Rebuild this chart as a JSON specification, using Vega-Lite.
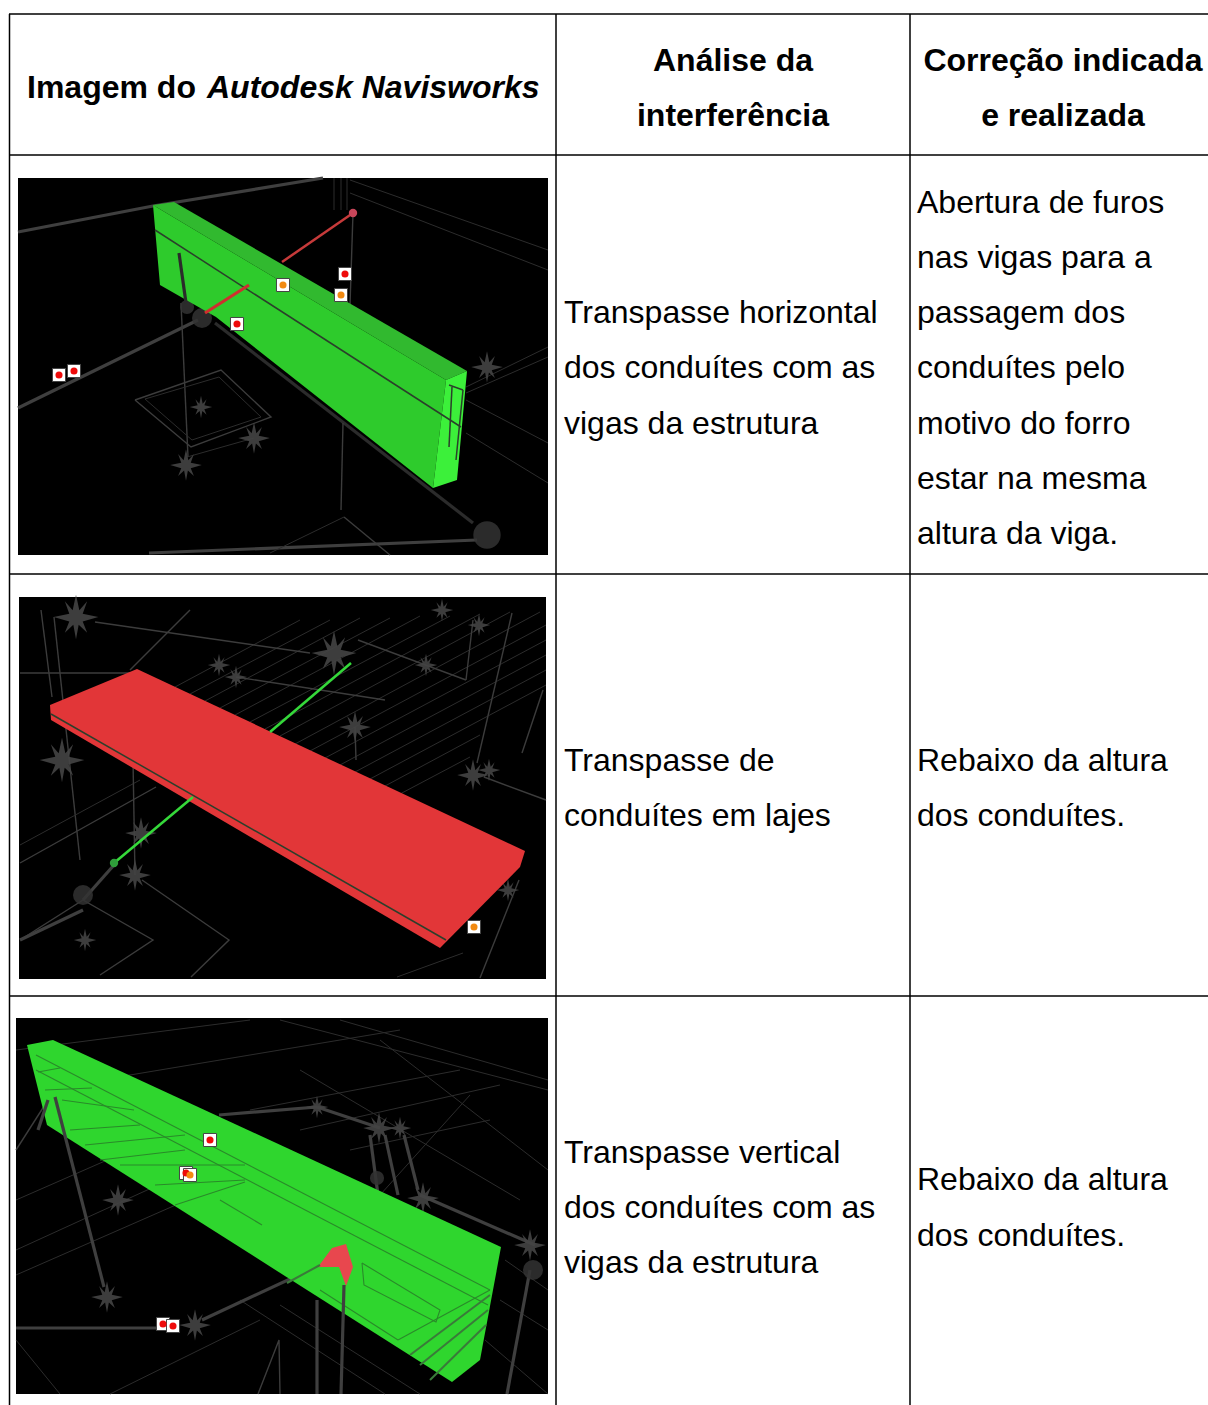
{
"$schema":"https://vega.github.io/schema/vega-lite/v6.json",
"width":1208,"height":1405,
"autosize":{"type":"none"},
"padding":0,
"background":"white",
"config":{"view":{"stroke":null}},
"resolve":{"scale":{"color":"independent","fill":"independent","strokeWidth":"independent","size":"independent"}},
"datasets":{
"panels":[{"x":18,"x2":548,"y":178,"y2":555},{"x":19,"x2":546,"y":597,"y2":979},{"x":16,"x2":548,"y":1018,"y2":1394}],
"grid":[
{"x":9,"x2":1208,"y":14,"y2":14},{"x":9,"x2":1208,"y":155,"y2":155},{"x":9,"x2":1208,"y":574,"y2":574},{"x":9,"x2":1208,"y":996,"y2":996},
{"x":9.5,"x2":9.5,"y":14,"y2":1405},{"x":556,"x2":556,"y":14,"y2":1405},{"x":910,"x2":910,"y":14,"y2":1405}],
"wiresBack":[
{"id":"a1","k":"pipe","x":18,"y":232},{"id":"a1","k":"pipe","x":153,"y":206},{"id":"a1","k":"pipe","x":323,"y":178},
{"id":"a2","k":"pipe","x":18,"y":408},{"id":"a2","k":"pipe","x":198,"y":320},
{"id":"a3","k":"pipe","x":149,"y":553},{"id":"a3","k":"pipe","x":477,"y":540},
{"id":"a4","k":"dark","x":215,"y":323},{"id":"a4","k":"dark","x":473,"y":523},
{"id":"a5","k":"wire","x":181,"y":303},{"id":"a5","k":"wire","x":188,"y":457},
{"id":"a6","k":"wire","x":353,"y":213},{"id":"a6","k":"wire","x":350,"y":305},
{"id":"a7","k":"wire","x":343,"y":423},{"id":"a7","k":"wire","x":341,"y":510},
{"id":"a8","k":"wire","x":344,"y":517},{"id":"a8","k":"wire","x":390,"y":555},
{"id":"a9","k":"wire","x":135,"y":400},{"id":"a9","k":"wire","x":221,"y":370},{"id":"a9","k":"wire","x":271,"y":417},{"id":"a9","k":"wire","x":191,"y":447},{"id":"a9","k":"wire","x":135,"y":400},
{"id":"a10","k":"faint","x":145,"y":399},{"id":"a10","k":"faint","x":219,"y":377},{"id":"a10","k":"faint","x":261,"y":417},{"id":"a10","k":"faint","x":192,"y":440},{"id":"a10","k":"faint","x":145,"y":399},
{"id":"a11","k":"faint","x":350,"y":180},{"id":"a11","k":"faint","x":548,"y":250},
{"id":"a12","k":"faint","x":350,"y":193},{"id":"a12","k":"faint","x":548,"y":270},
{"id":"a13","k":"faint","x":466,"y":393},{"id":"a13","k":"faint","x":548,"y":357},
{"id":"a14","k":"faint","x":466,"y":387},{"id":"a14","k":"faint","x":548,"y":347},
{"id":"a15","k":"faint","x":466,"y":400},{"id":"a15","k":"faint","x":548,"y":443},
{"id":"a16","k":"faint","x":466,"y":433},{"id":"a16","k":"faint","x":548,"y":483},
{"id":"a17","k":"faint","x":334,"y":178},{"id":"a17","k":"faint","x":334,"y":210},
{"id":"a18","k":"faint","x":341,"y":178},{"id":"a18","k":"faint","x":341,"y":210},
{"id":"a19","k":"faint","x":347,"y":178},{"id":"a19","k":"faint","x":347,"y":210},
{"id":"a20","k":"faint","x":187,"y":457},{"id":"a20","k":"faint","x":254,"y":438},
{"id":"a21","k":"faint","x":344,"y":517},{"id":"a21","k":"faint","x":270,"y":553},
{"id":"b1","k":"faint","x":175,"y":687},{"id":"b1","k":"faint","x":300,"y":620},
{"id":"b2","k":"faint","x":190,"y":694},{"id":"b2","k":"faint","x":330,"y":620},
{"id":"b3","k":"faint","x":205,"y":701},{"id":"b3","k":"faint","x":360,"y":618},
{"id":"b4","k":"faint","x":220,"y":708},{"id":"b4","k":"faint","x":390,"y":618},
{"id":"b5","k":"faint","x":235,"y":715},{"id":"b5","k":"faint","x":420,"y":616},
{"id":"b6","k":"faint","x":250,"y":722},{"id":"b6","k":"faint","x":450,"y":616},
{"id":"b7","k":"faint","x":265,"y":729},{"id":"b7","k":"faint","x":480,"y":614},
{"id":"b8","k":"faint","x":280,"y":736},{"id":"b8","k":"faint","x":510,"y":612},
{"id":"b9","k":"faint","x":295,"y":744},{"id":"b9","k":"faint","x":540,"y":612},
{"id":"b10","k":"faint","x":310,"y":751},{"id":"b10","k":"faint","x":546,"y":625},
{"id":"b11","k":"faint","x":325,"y":758},{"id":"b11","k":"faint","x":546,"y":640},
{"id":"b12","k":"faint","x":340,"y":765},{"id":"b12","k":"faint","x":546,"y":655},
{"id":"b13","k":"faint","x":355,"y":772},{"id":"b13","k":"faint","x":546,"y":670},
{"id":"b14","k":"faint","x":370,"y":779},{"id":"b14","k":"faint","x":546,"y":685},
{"id":"b15","k":"faint","x":385,"y":786},{"id":"b15","k":"faint","x":480,"y":735},
{"id":"b16","k":"faint","x":400,"y":794},{"id":"b16","k":"faint","x":470,"y":757},
{"id":"b17","k":"wire","x":95,"y":622},{"id":"b17","k":"wire","x":310,"y":653},
{"id":"b18","k":"wire","x":20,"y":673},{"id":"b18","k":"wire","x":139,"y":673},
{"id":"b19","k":"wire","x":41,"y":610},{"id":"b19","k":"wire","x":52,"y":697},
{"id":"b20","k":"wire","x":54,"y":617},{"id":"b20","k":"wire","x":80,"y":860},
{"id":"b21","k":"wire","x":512,"y":613},{"id":"b21","k":"wire","x":477,"y":763},
{"id":"b22","k":"wire","x":466,"y":680},{"id":"b22","k":"wire","x":358,"y":640},
{"id":"b23","k":"wire","x":473,"y":620},{"id":"b23","k":"wire","x":466,"y":680},
{"id":"b24","k":"wire","x":543,"y":690},{"id":"b24","k":"wire","x":522,"y":753},
{"id":"b25","k":"wire","x":484,"y":777},{"id":"b25","k":"wire","x":546,"y":800},
{"id":"b26","k":"wire","x":20,"y":940},{"id":"b26","k":"wire","x":83,"y":900},{"id":"b26","k":"wire","x":153,"y":940},{"id":"b26","k":"wire","x":100,"y":975},
{"id":"b27","k":"pipe","x":83,"y":900},{"id":"b27","k":"pipe","x":114,"y":865},
{"id":"b37","k":"pipe","x":20,"y":940},{"id":"b37","k":"pipe","x":83,"y":910},
{"id":"b28","k":"wire","x":142,"y":880},{"id":"b28","k":"wire","x":229,"y":940},{"id":"b28","k":"wire","x":191,"y":977},
{"id":"b29","k":"faint","x":397,"y":977},{"id":"b29","k":"faint","x":463,"y":953},
{"id":"b30","k":"wire","x":480,"y":978},{"id":"b30","k":"wire","x":519,"y":880},
{"id":"b31","k":"wire","x":20,"y":863},{"id":"b31","k":"wire","x":156,"y":787},
{"id":"b32","k":"faint","x":20,"y":845},{"id":"b32","k":"faint","x":140,"y":780},
{"id":"b33","k":"wire","x":355,"y":727},{"id":"b33","k":"wire","x":356,"y":760},
{"id":"b34","k":"wire","x":133,"y":760},{"id":"b34","k":"wire","x":135,"y":875},
{"id":"b35","k":"wire","x":130,"y":670},{"id":"b35","k":"wire","x":190,"y":610},
{"id":"b36","k":"wire","x":236,"y":677},{"id":"b36","k":"wire","x":385,"y":700},
{"id":"c1","k":"faint","x":16,"y":1050},{"id":"c1","k":"faint","x":250,"y":1020},
{"id":"c2","k":"faint","x":280,"y":1020},{"id":"c2","k":"faint","x":548,"y":1090},
{"id":"c3","k":"faint","x":340,"y":1020},{"id":"c3","k":"faint","x":548,"y":1080},
{"id":"c4","k":"faint","x":100,"y":1080},{"id":"c4","k":"faint","x":400,"y":1030},
{"id":"c5","k":"faint","x":250,"y":1110},{"id":"c5","k":"faint","x":460,"y":1070},
{"id":"c6","k":"faint","x":300,"y":1130},{"id":"c6","k":"faint","x":500,"y":1085},
{"id":"c7","k":"faint","x":350,"y":1150},{"id":"c7","k":"faint","x":490,"y":1120},
{"id":"c8","k":"faint","x":380,"y":1040},{"id":"c8","k":"faint","x":548,"y":1170},
{"id":"c9","k":"faint","x":300,"y":1070},{"id":"c9","k":"faint","x":520,"y":1200},
{"id":"c10","k":"faint","x":470,"y":1095},{"id":"c10","k":"faint","x":380,"y":1195},
{"id":"c11","k":"faint","x":16,"y":1200},{"id":"c11","k":"faint","x":130,"y":1150},
{"id":"c12","k":"faint","x":16,"y":1250},{"id":"c12","k":"faint","x":180,"y":1175},
{"id":"c13","k":"faint","x":16,"y":1275},{"id":"c13","k":"faint","x":210,"y":1190},
{"id":"c14","k":"faint","x":16,"y":1340},{"id":"c14","k":"faint","x":60,"y":1394},
{"id":"c15","k":"faint","x":110,"y":1394},{"id":"c15","k":"faint","x":260,"y":1320},
{"id":"c16","k":"faint","x":280,"y":1305},{"id":"c16","k":"faint","x":420,"y":1394},
{"id":"c17","k":"faint","x":240,"y":1300},{"id":"c17","k":"faint","x":385,"y":1394},
{"id":"c18","k":"faint","x":505,"y":1260},{"id":"c18","k":"faint","x":548,"y":1290},
{"id":"c19","k":"faint","x":500,"y":1300},{"id":"c19","k":"faint","x":548,"y":1330},
{"id":"c20","k":"faint","x":485,"y":1340},{"id":"c20","k":"faint","x":548,"y":1394},
{"id":"c21","k":"pipe","x":16,"y":1328},{"id":"c21","k":"pipe","x":160,"y":1328},
{"id":"c22","k":"pipe","x":202,"y":1320},{"id":"c22","k":"pipe","x":320,"y":1265},
{"id":"c23","k":"pipe","x":317,"y":1300},{"id":"c23","k":"pipe","x":317,"y":1394},
{"id":"c24","k":"pipe","x":219,"y":1115},{"id":"c24","k":"pipe","x":317,"y":1107},
{"id":"c25","k":"pipe","x":317,"y":1107},{"id":"c25","k":"pipe","x":380,"y":1128},
{"id":"c26","k":"pipe","x":370,"y":1135},{"id":"c26","k":"pipe","x":378,"y":1195},
{"id":"c27","k":"pipe","x":385,"y":1135},{"id":"c27","k":"pipe","x":398,"y":1195},
{"id":"c28","k":"pipe","x":404,"y":1135},{"id":"c28","k":"pipe","x":418,"y":1190},
{"id":"c29","k":"pipe","x":420,"y":1195},{"id":"c29","k":"pipe","x":535,"y":1245},
{"id":"c30","k":"pipe","x":530,"y":1270},{"id":"c30","k":"pipe","x":507,"y":1394},
{"id":"c31","k":"wire","x":280,"y":1394},{"id":"c31","k":"wire","x":279,"y":1340},{"id":"c31","k":"wire","x":258,"y":1394},
{"id":"c32","k":"wire","x":16,"y":1150},{"id":"c32","k":"wire","x":48,"y":1100}
],
"wiresFront":[
{"id":"d1","k":"beamLine","x":155,"y":230},{"id":"d1","k":"beamLine","x":461,"y":427},
{"id":"d2","k":"dark","x":179,"y":253},{"id":"d2","k":"dark","x":186,"y":303},
{"id":"d3","k":"red","x":282,"y":262},{"id":"d3","k":"red","x":353,"y":213},
{"id":"d4","k":"redThick","x":205,"y":313},{"id":"d4","k":"redThick","x":249,"y":285},
{"id":"d5","k":"beamLine","x":449,"y":385},{"id":"d5","k":"beamLine","x":463,"y":390},
{"id":"d6","k":"beamLine","x":452,"y":387},{"id":"d6","k":"beamLine","x":449,"y":447},
{"id":"d7","k":"beamLine","x":463,"y":390},{"id":"d7","k":"beamLine","x":456,"y":460},
{"id":"e1","k":"beamLine","x":51,"y":714},{"id":"e1","k":"beamLine","x":446,"y":940},
{"id":"e2","k":"green","x":270,"y":732},{"id":"e2","k":"green","x":351,"y":663},
{"id":"e3","k":"green","x":193,"y":797},{"id":"e3","k":"green","x":114,"y":863},
{"id":"f1","k":"beamFaint","x":36,"y":1055},{"id":"f1","k":"beamFaint","x":490,"y":1290},
{"id":"f2","k":"beamFaint","x":36,"y":1070},{"id":"f2","k":"beamFaint","x":488,"y":1305},
{"id":"f3","k":"beamFaint","x":38,"y":1072},{"id":"f3","k":"beamFaint","x":60,"y":1068},
{"id":"f4","k":"beamFaint","x":45,"y":1090},{"id":"f4","k":"beamFaint","x":92,"y":1088},
{"id":"f5","k":"beamFaint","x":62,"y":1100},{"id":"f5","k":"beamFaint","x":134,"y":1110},
{"id":"f6","k":"beamFaint","x":70,"y":1130},{"id":"f6","k":"beamFaint","x":140,"y":1125},
{"id":"f7","k":"beamFaint","x":85,"y":1145},{"id":"f7","k":"beamFaint","x":185,"y":1135},
{"id":"f8","k":"beamFaint","x":100,"y":1160},{"id":"f8","k":"beamFaint","x":185,"y":1150},
{"id":"f9","k":"beamFaint","x":120,"y":1165},{"id":"f9","k":"beamFaint","x":245,"y":1165},
{"id":"f10","k":"beamFaint","x":155,"y":1185},{"id":"f10","k":"beamFaint","x":245,"y":1180},
{"id":"f11","k":"beamFaint","x":175,"y":1205},{"id":"f11","k":"beamFaint","x":245,"y":1182},
{"id":"f12","k":"beamFaint","x":220,"y":1200},{"id":"f12","k":"beamFaint","x":262,"y":1225},
{"id":"f13","k":"beamFaint","x":362,"y":1263},{"id":"f13","k":"beamFaint","x":440,"y":1310},{"id":"f13","k":"beamFaint","x":436,"y":1322},{"id":"f13","k":"beamFaint","x":364,"y":1285},{"id":"f13","k":"beamFaint","x":362,"y":1263},
{"id":"f14","k":"beamFaint","x":320,"y":1290},{"id":"f14","k":"beamFaint","x":398,"y":1340},
{"id":"f15","k":"beamFaint","x":398,"y":1340},{"id":"f15","k":"beamFaint","x":490,"y":1290},
{"id":"f16","k":"beamPipe","x":410,"y":1355},{"id":"f16","k":"beamPipe","x":490,"y":1295},
{"id":"f17","k":"beamPipe","x":420,"y":1365},{"id":"f17","k":"beamPipe","x":488,"y":1310},
{"id":"f18","k":"beamPipe","x":430,"y":1380},{"id":"f18","k":"beamPipe","x":486,"y":1325},
{"id":"f19","k":"pipe","x":55,"y":1097},{"id":"f19","k":"pipe","x":104,"y":1287},
{"id":"f20","k":"pipe","x":48,"y":1100},{"id":"f20","k":"pipe","x":38,"y":1130},
{"id":"f21","k":"beamPipe","x":287,"y":1283},{"id":"f21","k":"beamPipe","x":320,"y":1265},
{"id":"f22","k":"pipe","x":344,"y":1285},{"id":"f22","k":"pipe","x":341,"y":1394}
],
"faces":[
{"id":"p1top","k":"top","x":153,"y":205},{"id":"p1top","k":"top","x":174,"y":202},{"id":"p1top","k":"top","x":467,"y":371},{"id":"p1top","k":"top","x":446,"y":380},
{"id":"p1front","k":"front","x":153,"y":205},{"id":"p1front","k":"front","x":446,"y":380},{"id":"p1front","k":"front","x":433,"y":488},{"id":"p1front","k":"front","x":216,"y":317},{"id":"p1front","k":"front","x":160,"y":285},
{"id":"p1end","k":"end","x":446,"y":380},{"id":"p1end","k":"end","x":467,"y":371},{"id":"p1end","k":"end","x":457,"y":480},{"id":"p1end","k":"end","x":433,"y":488},
{"id":"p2","k":"slab","x":50,"y":705},{"id":"p2","k":"slab","x":137,"y":669},{"id":"p2","k":"slab","x":525,"y":851},{"id":"p2","k":"slab","x":520,"y":867},{"id":"p2","k":"slab","x":440,"y":948},{"id":"p2","k":"slab","x":51,"y":720},
{"id":"p3","k":"front3","x":27,"y":1045},{"id":"p3","k":"front3","x":53,"y":1040},{"id":"p3","k":"front3","x":501,"y":1247},{"id":"p3","k":"front3","x":480,"y":1360},{"id":"p3","k":"front3","x":452,"y":1382},{"id":"p3","k":"front3","x":47,"y":1125},
{"id":"p3red","k":"blob","x":318,"y":1267},{"id":"p3red","k":"blob","x":332,"y":1248},{"id":"p3red","k":"blob","x":346,"y":1244},{"id":"p3red","k":"blob","x":353,"y":1267},{"id":"p3red","k":"blob","x":346,"y":1286},{"id":"p3red","k":"blob","x":339,"y":1267}
],
"stars":[
{"x":186,"y":465,"s":"m"},{"x":254,"y":438,"s":"m"},{"x":487,"y":367,"s":"m"},{"x":201,"y":407,"s":"s"},
{"x":76,"y":617,"s":"l"},{"x":334,"y":653,"s":"l"},{"x":219,"y":665,"s":"s"},{"x":236,"y":677,"s":"s"},{"x":355,"y":727,"s":"m"},{"x":426,"y":665,"s":"s"},{"x":442,"y":610,"s":"s"},{"x":479,"y":625,"s":"s"},{"x":473,"y":775,"s":"m"},{"x":489,"y":770,"s":"s"},{"x":62,"y":760,"s":"l"},{"x":141,"y":833,"s":"m"},{"x":135,"y":875,"s":"m"},{"x":85,"y":940,"s":"s"},{"x":508,"y":890,"s":"s"},
{"x":107,"y":1297,"s":"m"},{"x":118,"y":1200,"s":"m"},{"x":317,"y":1107,"s":"s"},{"x":379,"y":1128,"s":"m"},{"x":400,"y":1128,"s":"s"},{"x":423,"y":1198,"s":"m"},{"x":195,"y":1325,"s":"m"},{"x":530,"y":1245,"s":"m"}
],
"blobs":[
{"x":487,"y":535,"s":"l"},{"x":187,"y":307,"s":"s"},{"x":202,"y":318,"s":"m"},{"x":83,"y":895,"s":"m"},{"x":55,"y":1098,"s":"s"},{"x":377,"y":1178,"s":"s"},{"x":533,"y":1270,"s":"m"}
],
"dots":[{"x":353,"y":213,"c":"r"},{"x":114,"y":863,"c":"g"}],
"markers":[
{"x":59,"y":375,"c":"red"},{"x":74,"y":371,"c":"red"},{"x":237,"y":324,"c":"red"},{"x":283,"y":285,"c":"orange"},{"x":345,"y":274,"c":"red"},{"x":341,"y":295,"c":"orange"},
{"x":474,"y":927,"c":"orange"},
{"x":210,"y":1140,"c":"red"},{"x":186,"y":1173,"c":"red"},{"x":190,"y":1175,"c":"orange"},{"x":163,"y":1324,"c":"red"},{"x":173,"y":1326,"c":"red"}
],
"textLeft":[
{"t":"Abertura de furos","x":917,"y":213},{"t":"nas vigas para a","x":917,"y":268},{"t":"passagem dos","x":917,"y":323},{"t":"conduítes pelo","x":917,"y":378},{"t":"motivo do forro","x":917,"y":434},{"t":"estar na mesma","x":917,"y":489},{"t":"altura da viga.","x":917,"y":544},
{"t":"Transpasse horizontal","x":564,"y":323},{"t":"dos conduítes com as","x":564,"y":378},{"t":"vigas da estrutura","x":564,"y":434},
{"t":"Transpasse de","x":564,"y":771},{"t":"conduítes em lajes","x":564,"y":826},
{"t":"Rebaixo da altura","x":917,"y":771},{"t":"dos conduítes.","x":917,"y":826},
{"t":"Transpasse vertical","x":564,"y":1163},{"t":"dos conduítes com as","x":564,"y":1218},{"t":"vigas da estrutura","x":564,"y":1273},
{"t":"Rebaixo da altura","x":917,"y":1190},{"t":"dos conduítes.","x":917,"y":1246}
],
"headCenter":[
{"t":"Análise da","x":733,"y":71},{"t":"interferência","x":733,"y":126},{"t":"Correção indicada","x":1063,"y":71},{"t":"e realizada","x":1063,"y":126}
],
"headLeft":[{"t":"Imagem do","x":27,"y":98}],
"headItalic":[{"t":"Autodesk Navisworks","x":207,"y":98}]
},
"layer":[
{"data":{"name":"panels"},"mark":{"type":"rect","color":"#000000"},
 "encoding":{"x":{"field":"x","type":"quantitative","scale":{"domain":[0,1208],"nice":false,"zero":false},"axis":null},"x2":{"field":"x2"},"y":{"field":"y","type":"quantitative","scale":{"domain":[1405,0],"nice":false,"zero":false},"axis":null},"y2":{"field":"y2"}}},
{"data":{"name":"wiresBack"},"mark":{"type":"line","interpolate":"linear"},
 "encoding":{"x":{"field":"x","type":"quantitative"},"y":{"field":"y","type":"quantitative"},"detail":{"field":"id"},"order":{"value":null},
 "color":{"field":"k","type":"nominal","legend":null,"scale":{"domain":["faint","wire","pipe","dark"],"range":["#2c2c2c","#3c3c3c","#3f3f3f","#2b2b2b"]}},
 "strokeWidth":{"field":"k","type":"nominal","legend":null,"scale":{"type":"ordinal","domain":["faint","wire","pipe","dark"],"range":[1,1.4,3.2,3.2]}}}},
{"data":{"name":"stars"},"mark":{"type":"point","filled":true,"shape":"M0,-1L.15,-.3L.5,-.7L.3,-.15L1,0L.3,.2L.5,.7L.12,.35L0,1L-.12,.35L-.5,.7L-.3,.2L-1,0L-.3,-.15L-.5,-.7L-.15,-.3Z","color":"#444444","opacity":0.9},
 "encoding":{"x":{"field":"x","type":"quantitative"},"y":{"field":"y","type":"quantitative"},"size":{"field":"s","type":"nominal","legend":null,"scale":{"type":"ordinal","domain":["s","m","l"],"range":[500,1000,2000]}}}},
{"data":{"name":"blobs"},"mark":{"type":"point","filled":true,"shape":"circle","color":"#333333","opacity":0.85},
 "encoding":{"x":{"field":"x","type":"quantitative"},"y":{"field":"y","type":"quantitative"},"size":{"field":"s","type":"nominal","legend":null,"scale":{"type":"ordinal","domain":["s","m","l"],"range":[200,400,750]}}}},
{"data":{"name":"faces"},"mark":{"type":"line","strokeWidth":0},
 "encoding":{"x":{"field":"x","type":"quantitative"},"y":{"field":"y","type":"quantitative"},"detail":{"field":"id"},"order":{"value":null},
 "fill":{"field":"k","type":"nominal","legend":null,"scale":{"domain":["top","front","end","slab","front3","blob"],"range":["#31b92f","#2ecb2c","#3cf03a","#e23638","#2fd62e","#e8474e"]}}}},
{"data":{"name":"wiresFront"},"mark":{"type":"line","interpolate":"linear"},
 "encoding":{"x":{"field":"x","type":"quantitative"},"y":{"field":"y","type":"quantitative"},"detail":{"field":"id"},"order":{"value":null},
 "color":{"field":"k","type":"nominal","legend":null,"scale":{"domain":["beamLine","dark","red","redThick","green","beamFaint","beamPipe","pipe"],"range":["#2b3f2b","#2b2b2b","#c63a3a","#cf2f2f","#35d83a","#2a8a2a","#3a7a3a","#3f3f3f"]}},
 "strokeWidth":{"field":"k","type":"nominal","legend":null,"scale":{"type":"ordinal","domain":["beamLine","dark","red","redThick","green","beamFaint","beamPipe","pipe"],"range":[1.5,3.2,2.5,3.2,2.6,1.1,2,3.2]}}}},
{"data":{"name":"dots"},"mark":{"type":"point","filled":true,"shape":"circle","opacity":1,"size":70},
 "encoding":{"x":{"field":"x","type":"quantitative"},"y":{"field":"y","type":"quantitative"},"color":{"field":"c","type":"nominal","legend":null,"scale":{"domain":["r","g"],"range":["#c8465a","#2f9e3a"]}}}},
{"data":{"name":"markers"},"mark":{"type":"point","filled":true,"shape":"square","color":"#ffffff","stroke":"#444444","strokeWidth":1,"opacity":1,"size":170},
 "encoding":{"x":{"field":"x","type":"quantitative"},"y":{"field":"y","type":"quantitative"}}},
{"data":{"name":"markers"},"mark":{"type":"point","filled":true,"shape":"circle","opacity":1,"size":50},
 "encoding":{"x":{"field":"x","type":"quantitative"},"y":{"field":"y","type":"quantitative"},"color":{"field":"c","type":"nominal","legend":null,"scale":{"domain":["red","orange"],"range":["#ee0a0a","#f28a12"]}}}},
{"data":{"name":"grid"},"mark":{"type":"rule","color":"#000000","strokeWidth":1.5},
 "encoding":{"x":{"field":"x","type":"quantitative"},"x2":{"field":"x2"},"y":{"field":"y","type":"quantitative"},"y2":{"field":"y2"}}},
{"data":{"name":"textLeft"},"mark":{"type":"text","align":"left","baseline":"alphabetic","font":"Liberation Sans","fontSize":32,"color":"#000000"},
 "encoding":{"x":{"field":"x","type":"quantitative"},"y":{"field":"y","type":"quantitative"},"text":{"field":"t"}}},
{"data":{"name":"headCenter"},"mark":{"type":"text","align":"center","baseline":"alphabetic","font":"Liberation Sans","fontWeight":"bold","fontSize":32,"color":"#000000"},
 "encoding":{"x":{"field":"x","type":"quantitative"},"y":{"field":"y","type":"quantitative"},"text":{"field":"t"}}},
{"data":{"name":"headLeft"},"mark":{"type":"text","align":"left","baseline":"alphabetic","font":"Liberation Sans","fontWeight":"bold","fontSize":32,"color":"#000000"},
 "encoding":{"x":{"field":"x","type":"quantitative"},"y":{"field":"y","type":"quantitative"},"text":{"field":"t"}}},
{"data":{"name":"headItalic"},"mark":{"type":"text","align":"left","baseline":"alphabetic","font":"Liberation Sans","fontWeight":"bold","fontStyle":"italic","fontSize":32,"color":"#000000"},
 "encoding":{"x":{"field":"x","type":"quantitative"},"y":{"field":"y","type":"quantitative"},"text":{"field":"t"}}}
]
}
